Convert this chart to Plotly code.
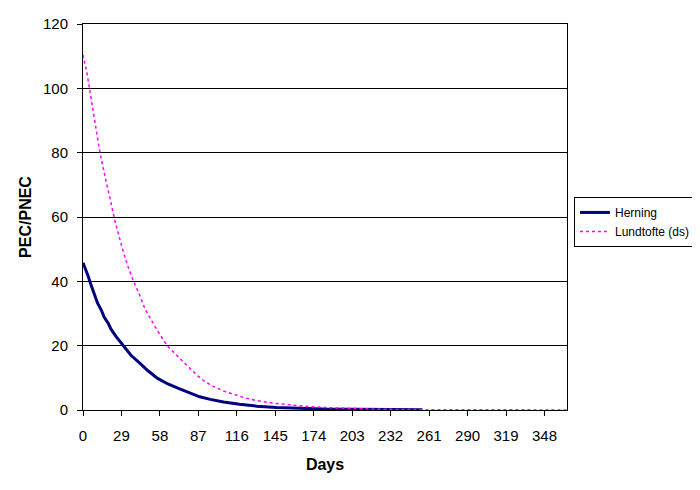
import plotly.graph_objects as go

# Values (day -> PEC/PNEC)
herning_days = [0, 1, 4, 6, 9, 11, 14, 16, 19, 21, 25, 31, 36, 43, 49, 56, 64, 72, 79, 85, 88, 96, 106,
                118, 131, 146, 164, 181, 206, 230, 256]
herning_vals = [45.8, 44.8, 41.5, 38.9, 35.8, 33.2, 30.9, 28.8, 27.0, 25.2, 22.8, 19.5, 17.1, 14.5, 12.2,
                9.9, 8.1, 6.7, 5.5, 4.7, 4.1, 3.3, 2.5, 1.8, 1.2, 0.8, 0.5, 0.3, 0.2, 0.1, 0.05]

lund_days = [0, 2, 3, 5, 6, 8, 9, 11, 12, 14, 16, 18, 19, 21, 22, 24, 26, 29, 31, 34, 38, 42, 47, 52, 57,
             64, 72, 79, 86, 92, 98, 106, 113, 121, 131, 144, 156, 169, 186, 206, 221, 260, 300, 365]
lund_vals = [110.4, 106.8, 104.8, 99.6, 97.0, 91.0, 88.7, 84.0, 82.0, 77.5, 73.7, 69.8, 67.9, 63.8, 62.4,
             59.0, 55.8, 51.2, 48.3, 44.5, 40.1, 36.4, 31.2, 27.6, 24.1, 19.7, 16.4, 13.5, 10.8, 8.8, 7.4,
             5.9, 4.9, 3.9, 2.9, 2.1, 1.6, 1.1, 0.7, 0.4, 0.25, 0.1, 0.05, 0.02]

tick_days = [0, 29, 58, 87, 116, 145, 174, 203, 232, 261, 290, 319, 348]

fig = go.Figure()

fig.add_trace(go.Scatter(
    x=herning_days, y=herning_vals,
    mode='lines', name='Herning',
    line=dict(color='#000080', width=3),
))
fig.add_trace(go.Scatter(
    x=lund_days, y=lund_vals,
    mode='lines', name='Lundtofte (ds)',
    line=dict(color='#FF00FF', width=1.5, dash='dot'),
))

fig.update_layout(
    width=700, height=490,
    font=dict(family='Liberation Sans, Arial, sans-serif', color='black', size=15),
    paper_bgcolor='white',
    plot_bgcolor='white',
    # page has an 8px body margin, so margins are shifted to land the plot area in place
    margin=dict(l=75, r=132, t=16, b=88),
    xaxis=dict(
        title=dict(text='<b>Days</b>', font=dict(size=16), standoff=15),
        range=[0, 365],
        tickmode='array', tickvals=tick_days,
        ticks='outside', ticklen=5, tickcolor='black',
        ticklabelstandoff=7,
        showgrid=False, zeroline=False,
        showline=True, linecolor='black', linewidth=1, mirror=True,
        automargin=False,
    ),
    yaxis=dict(
        title=dict(text='<b>PEC/PNEC</b>', font=dict(size=16), standoff=7),
        range=[0, 120], dtick=20,
        ticks='outside', ticklen=5, tickcolor='black',
        ticklabelstandoff=6,
        showgrid=True, gridcolor='black', gridwidth=1,
        zeroline=False,
        showline=True, linecolor='black', linewidth=1, mirror=True,
        automargin=False,
    ),
    legend=dict(
        x=1.0144, y=0.552, xanchor='left', yanchor='top',
        bordercolor='black', borderwidth=1,
        font=dict(size=12),
        tracegroupgap=0,
    ),
    showlegend=True,
)

fig.write_html("out.html")
